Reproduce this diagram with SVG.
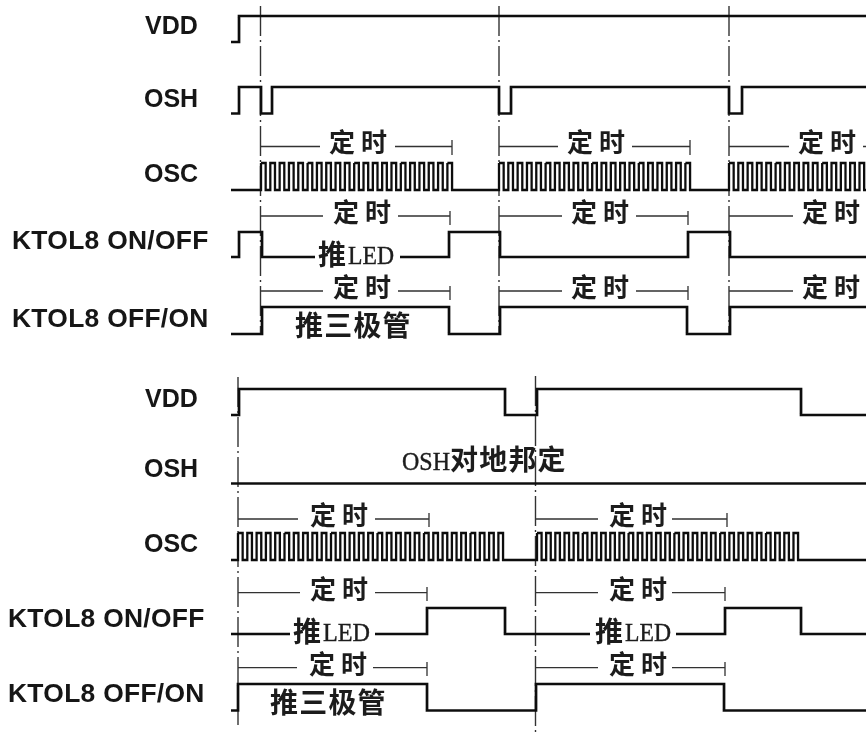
<svg xmlns="http://www.w3.org/2000/svg" width="866" height="736" viewBox="0 0 866 736">
<style>
.bg{fill:#fff}
.lab{font-family:"Liberation Sans",Arial,sans-serif;font-weight:700;font-size:25px;fill:#141414}
.k{font-size:26.4px;letter-spacing:.3px}
.cjk{font-family:"Noto Sans CJK SC",sans-serif;font-size:26px;letter-spacing:6px;fill:#1c1c1c;font-weight:700}
.c2{font-size:28px;letter-spacing:1.2px}
.ser{font-family:"Liberation Serif",serif;font-size:26px;fill:#1c1c1c;font-weight:400;stroke:#1c1c1c;stroke-width:.4}
.sig{fill:none;stroke:#111;stroke-width:2.7;stroke-linejoin:miter}
.osc{stroke-width:2.3}
.dim{fill:none;stroke:#333;stroke-width:1.3}
.cl{fill:none;stroke:#333;stroke-width:1.4;stroke-dasharray:30 4 2 4}
</style>
<defs>
<filter id="soft" x="0" y="0" width="866" height="736" filterUnits="userSpaceOnUse"><feGaussianBlur stdDeviation="0.45"/></filter>
<path id="p5a" d="M0 0h4.660v27h4.660v-27h4.660v27h4.660v-27h4.660v27h4.660v-27h4.660v27h4.660v-27h4.660v27h4.660v-27"/>
<path id="p5b" d="M0 0h4.650v27h4.650v-27h4.650v27h4.650v-27h4.650v27h4.650v-27h4.650v27h4.650v-27h4.650v27h4.650v-27"/>
<path id="p5c" d="M0 0h4.580v27h4.580v-27h4.580v27h4.580v-27h4.580v27h4.580v-27h4.580v27h4.580v-27h4.580v27h4.580v-27"/>
</defs>
<rect class="bg" width="866" height="736"/>
<g filter="url(#soft)">
<g id="connectors">
<path class="cl" d="M260.500 6V335M499 6V335M729 6V335M238 377V725M535.500 376V736"/>
<path class="dim" d="M260 146.500H320M395 146.500H452M452 140V155M499 146.500H558M632 146.500H690M690 140V155M729 146.500H789M863 146.500H866M260 216H323M398 216H450M450 211V225M499 216H562M636 216H688M688 211V225M729 216H793M260 291H323M398 291H450M450 286V300M499 291H562M636 291H688M688 286V300M729 291H793M238 519H298M375 519H429M429 513V527M536 519H598M672 519H727M727 513V527M238 592.700H300M375 592.700H427M427 587V601M536 592.700H598M672 592.700H725M725 587V601M238 667.700H297M373 667.700H427M427 662V676M536 667.700H598M672 667.700H725M725 662V676"/>
</g>
<g id="top-vdd"><text class="lab" x="145" y="34">VDD</text><path class="sig" d="M231 42H239V16H866"/></g>
<g id="top-osh"><text class="lab" x="144" y="107">OSH</text><path class="sig" d="M231 113.500H239V87H261V113.500H272V87H499V113.500H511V87H729V113.500H742V87H866"/></g>
<g id="top-osc"><text class="lab" x="144" y="182">OSC</text>
<g class="sig osc">
<path d="M231 190H261V163"/>
<use href="#p5a" x="261" y="163"/><use href="#p5a" x="307.600" y="163"/><use href="#p5a" x="354.200" y="163"/><use href="#p5a" x="400.800" y="163"/>
<path d="M447.400 163h4.660v27H499V163"/>
<use href="#p5a" x="499" y="163"/><use href="#p5a" x="545.600" y="163"/><use href="#p5a" x="592.200" y="163"/><use href="#p5a" x="638.800" y="163"/>
<path d="M685.400 163h4.660v27H729V163"/>
<use href="#p5a" x="729" y="163"/><use href="#p5a" x="775.600" y="163"/><use href="#p5a" x="822.200" y="163"/>
</g>
<text class="cjk" x="329" y="152">定时</text><text class="cjk" x="567" y="152">定时</text><text class="cjk" x="798" y="152">定时</text></g>
<g id="top-ktol8-on-off"><text class="lab k" x="12" y="249">KTOL8 ON/OFF</text>
<path class="sig" d="M231 257H239V232H262V257H315M400 257H449V232H500V257H688V232H730V257H866"/>
<text class="cjk" x="333" y="222">定时</text><text class="cjk" x="571" y="222">定时</text><text class="cjk" x="802" y="222">定时</text>
<text class="cjk c2" x="318" y="265">推</text><text class="ser" x="348" y="264" textLength="46" lengthAdjust="spacingAndGlyphs">LED</text></g>
<g id="top-ktol8-off-on"><text class="lab k" x="12" y="327">KTOL8 OFF/ON</text>
<path class="sig" d="M231 334H262V307H449V334H500V307H687V334H730V307H866"/>
<text class="cjk" x="333" y="297">定时</text><text class="cjk" x="571" y="297">定时</text><text class="cjk" x="802" y="297">定时</text>
<text class="cjk c2" x="295" y="336">推三极管</text></g>
<g id="bottom-vdd"><text class="lab" x="145" y="407">VDD</text><path class="sig" d="M231 415H239V389H505V415H537V389H801V415H866"/></g>
<g id="bottom-osh"><text class="lab" x="144" y="477">OSH</text><path class="sig" d="M231 483.500H866"/>
<text class="ser" x="402" y="470" textLength="48" lengthAdjust="spacingAndGlyphs">OSH</text><text class="cjk c2" x="450" y="470">对地邦定</text></g>
<g id="bottom-osc"><text class="lab" x="144" y="552">OSC</text>
<g class="sig osc">
<path d="M231 560H238V533"/>
<use href="#p5b" x="238" y="533"/><use href="#p5b" x="284.500" y="533"/><use href="#p5b" x="331" y="533"/><use href="#p5b" x="377.500" y="533"/><use href="#p5b" x="424" y="533"/>
<path d="M470.500 533h4.650v27h4.650v-27h4.650v27h4.650v-27h4.650v27h4.650v-27h4.650v27H537V533"/>
<use href="#p5c" x="537" y="533"/><use href="#p5c" x="582.800" y="533"/><use href="#p5c" x="628.600" y="533"/><use href="#p5c" x="674.400" y="533"/><use href="#p5c" x="720.200" y="533"/>
<path d="M766 533h4.580v27h4.580v-27h4.580v27h4.580v-27h4.580v27h4.580v-27h4.580v27H866"/>
</g>
<text class="cjk" x="310" y="525">定时</text><text class="cjk" x="609" y="525">定时</text></g>
<g id="bottom-ktol8-on-off"><text class="lab k" x="8" y="627">KTOL8 ON/OFF</text>
<path class="sig" d="M231 634H290M375 634H427V608H505V634H590M676 634H725V608H801V634H866"/>
<text class="cjk" x="310" y="599">定时</text><text class="cjk" x="609" y="599">定时</text>
<text class="cjk c2" x="293" y="642">推</text><text class="ser" x="323" y="641" textLength="47" lengthAdjust="spacingAndGlyphs">LED</text>
<text class="cjk c2" x="595" y="642">推</text><text class="ser" x="625" y="641" textLength="46" lengthAdjust="spacingAndGlyphs">LED</text></g>
<g id="bottom-ktol8-off-on"><text class="lab k" x="8" y="702">KTOL8 OFF/ON</text>
<path class="sig" d="M231 710.500H238V684H427V710.500H536V684H724V710.500H866"/>
<text class="cjk" x="309" y="674">定时</text><text class="cjk" x="609" y="674">定时</text>
<text class="cjk c2" x="270" y="713">推三极管</text></g>
</g>
</svg>
